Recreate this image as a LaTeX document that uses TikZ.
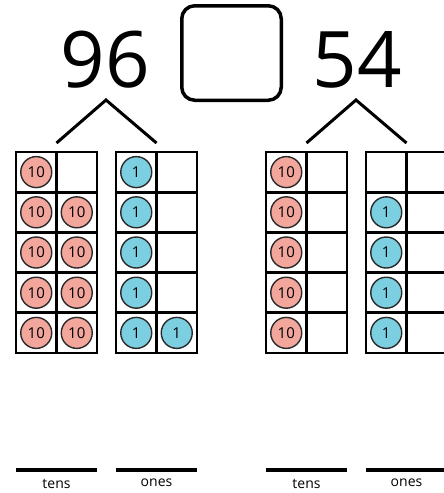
\documentclass[tikz,border=0pt]{standalone}
\usepackage{fontspec}
\setmainfont{Open Sans}
\usetikzlibrary{positioning,calc}
\definecolor{tenpink}{HTML}{F2A69C}
\definecolor{oneblue}{HTML}{7CCFE0}
\definecolor{rim}{HTML}{2A2A2A}
\tikzset{cell/.style={draw=black,line width=2.8pt,minimum width=40.5pt,minimum height=40.2pt,inner sep=0pt,outer sep=0pt},ten/.style={circle,draw=rim,line width=1.4pt,fill=tenpink,minimum size=31pt,inner sep=0pt,font=\fontsize{15}{15}\selectfont},one/.style={ten,fill=oneblue},bignum/.style={font=\fontsize{78}{78}\selectfont,anchor=base,inner sep=0pt},caret/.style={line width=3pt},placebar/.style={fill=black,minimum width=81pt,minimum height=4.3pt,inner sep=0pt,outer sep=0pt},placelabel/.style={font=\fontsize{14}{14}\selectfont,inner sep=0pt}}

\begin{document}
\begin{tikzpicture}[x=1pt,y=-1pt]
\useasboundingbox[fill=white] (0,0) rectangle (444,493);
\node[bignum] (n96) at (105,87) {96};
\node[bignum] (n54) at (357,87) {54};
\node[draw,line width=3.5pt,rounded corners=13pt,minimum width=99.5pt,minimum height=94.5pt] (blank) at (231.5,53) {};
% frames: a = 96, b = 54
\foreach \f/\x in {at/16,ao/116,bt/266,bo/366}
  \foreach \r in {0,...,4}
    \foreach \c in {0,1}
      \node[cell] (\f-\r-\c) at (\x+20.25+40.5*\c,172.1+40.2*\r) {};
\foreach \r in {0,...,4} \node[ten] (at-\r-0-c) at (at-\r-0) {10};
\foreach \r in {1,...,4} \node[ten] (at-\r-1-c) at (at-\r-1) {10};
\foreach \r in {0,...,4} \node[one] (ao-\r-0-c) at (ao-\r-0) {1};
\node[one] (ao-4-1-c) at (ao-4-1) {1};
\foreach \r in {0,...,4} \node[ten] (bt-\r-0-c) at (bt-\r-0) {10};
\foreach \r in {1,...,4} \node[one] (bo-\r-0-c) at (bo-\r-0) {1};
% carets
\coordinate (a-apex) at (106,100);
\coordinate (b-apex) at (356,100);
\coordinate (at-top) at ($(at-0-0.north east)+(0,-9)$);
\coordinate (ao-top) at ($(ao-0-0.north east)+(0,-9)$);
\coordinate (bt-top) at ($(bt-0-0.north east)+(0,-9)$);
\coordinate (bo-top) at ($(bo-0-0.north east)+(0,-9)$);
\draw[caret] (at-top)--(a-apex)--(ao-top);
\draw[caret] (bt-top)--(b-apex)--(bo-top);
% place value labels
\foreach \f/\x/\t in {at/56.5/tens,ao/156.5/ones,bt/306.5/tens,bo/406.5/ones}{
  \node[placebar] (\f-bar) at (\x,470) {};
  \node[placelabel,below=7pt of \f-bar] (\f-lab) {\t};
}
\end{tikzpicture}
\end{document}
